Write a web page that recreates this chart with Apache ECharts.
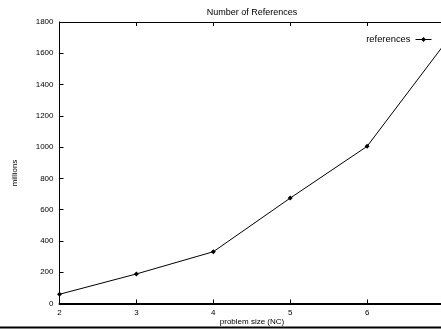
<!DOCTYPE html>
<html>
<head>
<meta charset="utf-8">
<script src="https://cdn.jsdelivr.net/npm/echarts@6/dist/echarts.min.js"></script>
<style>
  html, body { margin: 0; padding: 0; background: #fff; overflow: hidden; }
  #chart { width: 447px; height: 329px; }
</style>
</head>
<body>
<div id="chart"></div>
<script>
// problem size (NC) and number of references in millions
var sizes = [2, 3, 4, 5, 6, 7];
var references = [59, 189, 331, 674, 1005, 1655];
var xTicks = [2, 3, 4, 5, 6, 7];
var yTicks = [0, 200, 400, 600, 800, 1000, 1200, 1400, 1600, 1800];

// the plot runs a little past the right edge of the 441px window, as in the original
var myChart = echarts.init(document.getElementById("chart"));
var font = "Liberation Sans, Arial, sans-serif";

var points = sizes.map(function (s, i) { return [s, references[i]]; });

option = {
    animation: false,
    textStyle: { fontFamily: font },
    legend: {
        right: 10, top: 30,
        align: "right",
        itemWidth: 16, itemHeight: 6, itemGap: 0,
        lineStyle: { width: 1 },
        itemStyle: { borderWidth: 0 },
        textStyle: { fontSize: 9.4, color: "#000", fontFamily: font },
        data: ["references"]
    },
    grid: { left: 59.5, top: 22, right: 1, bottom: 25.5, containLabel: false },
    xAxis: [{
        type: "value", min: xTicks[0], max: xTicks[xTicks.length - 1], interval: 1,
        axisLine: { lineStyle: { color: "#000", width: 2 } },
        axisTick: { inside: true, length: 4, lineStyle: { color: "#000" } },
        axisLabel: { fontSize: 8, color: "#000", margin: 5, fontFamily: font,
            formatter: function (v) { return v < 7 ? String(v) : ""; } },
        splitLine: { show: false }
    }, {
        type: "value", position: "top", min: xTicks[0], max: xTicks[xTicks.length - 1], interval: 1,
        axisLine: { lineStyle: { color: "#000", width: 1 } },
        axisTick: { inside: true, length: 4, lineStyle: { color: "#000" } },
        axisLabel: { show: false },
        splitLine: { show: false }
    }],
    yAxis: [{
        type: "value", min: yTicks[0], max: yTicks[yTicks.length - 1], interval: 200,
        axisLine: { show: true, lineStyle: { color: "#000", width: 1 } },
        axisTick: { show: true, inside: true, length: 4, lineStyle: { color: "#000" } },
        axisLabel: { fontSize: 8, color: "#000", margin: 6, fontFamily: font,
            formatter: function (v) { return String(v); } },
        splitLine: { show: false }
    }],
    graphic: [{
        type: "text",
        style: { text: "Number of References", x: 252, y: 13, fill: "#000",
            font: "9px " + font, align: "center", verticalAlign: "middle" }
    }, {
        type: "text", rotation: Math.PI / 2, x: 15, y: 173,
        style: { text: "millions", fill: "#000", font: "8px " + font,
            align: "center", verticalAlign: "middle" }
    }, {
        type: "text",
        style: { text: "problem size (NC)", x: 252, y: 322, fill: "#000",
            font: "8px " + font, align: "center", verticalAlign: "middle" }
    }, {
        type: "line",
        shape: { x1: 0, y1: 327.5, x2: 447, y2: 327.5 },
        style: { stroke: "#000", lineWidth: 2 }
    }],
    series: [{
        name: "references",
        type: "line",
        data: points,
        symbol: "diamond",
        symbolSize: 5,
        itemStyle: { color: "#000" },
        lineStyle: { color: "#000", width: 1 },
        clip: true
    }]
};

if (option && typeof option === "object") {
    myChart.setOption(option, true);
}
</script>
</body>
</html>
